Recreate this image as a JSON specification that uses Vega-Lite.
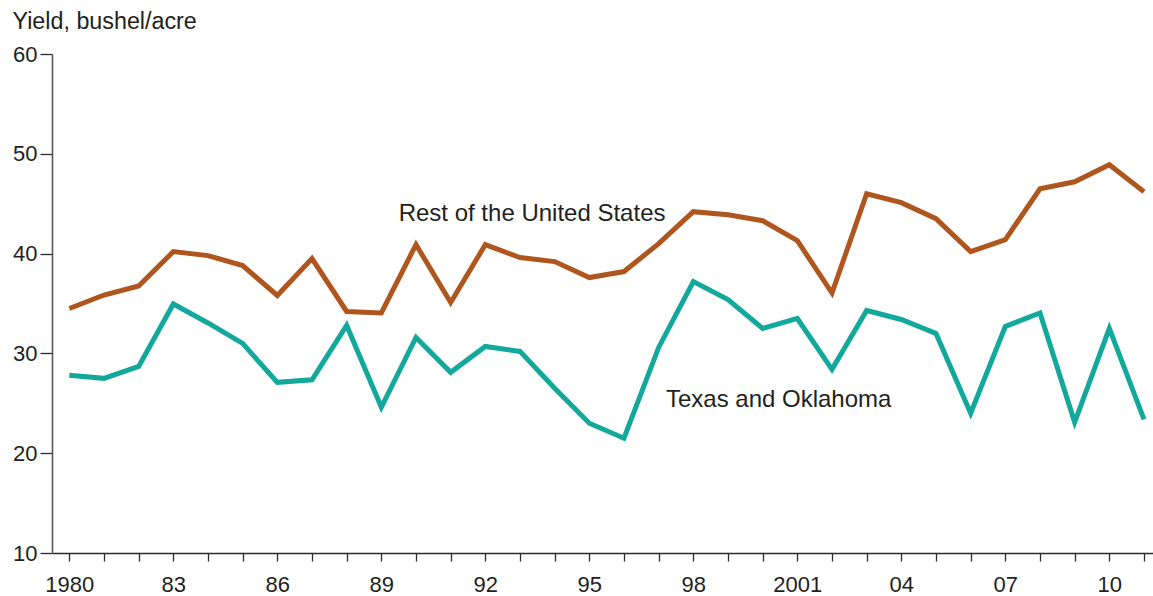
{
  "$schema": "https://vega.github.io/schema/vega-lite/v6.json",
  "width": 1101,
  "height": 499,
  "autosize": {"type": "none"},
  "padding": {"left": 52, "top": 54, "right": 0, "bottom": 43},
  "background": "white",
  "config": {"view": {"stroke": null}, "font": "Liberation Sans"},
  "datasets": {
    "yield": [
      {"region": "Rest of the United States", "year": 1980, "yield": 34.5},
      {"region": "Rest of the United States", "year": 1981, "yield": 35.85},
      {"region": "Rest of the United States", "year": 1982, "yield": 36.75},
      {"region": "Rest of the United States", "year": 1983, "yield": 40.2},
      {"region": "Rest of the United States", "year": 1984, "yield": 39.8},
      {"region": "Rest of the United States", "year": 1985, "yield": 38.8},
      {"region": "Rest of the United States", "year": 1986, "yield": 35.8},
      {"region": "Rest of the United States", "year": 1987, "yield": 39.5},
      {"region": "Rest of the United States", "year": 1988, "yield": 34.2},
      {"region": "Rest of the United States", "year": 1989, "yield": 34.05},
      {"region": "Rest of the United States", "year": 1990, "yield": 40.9},
      {"region": "Rest of the United States", "year": 1991, "yield": 35.1},
      {"region": "Rest of the United States", "year": 1992, "yield": 40.9},
      {"region": "Rest of the United States", "year": 1993, "yield": 39.6},
      {"region": "Rest of the United States", "year": 1994, "yield": 39.2},
      {"region": "Rest of the United States", "year": 1995, "yield": 37.6},
      {"region": "Rest of the United States", "year": 1996, "yield": 38.2},
      {"region": "Rest of the United States", "year": 1997, "yield": 41.0},
      {"region": "Rest of the United States", "year": 1998, "yield": 44.2},
      {"region": "Rest of the United States", "year": 1999, "yield": 43.9},
      {"region": "Rest of the United States", "year": 2000, "yield": 43.3},
      {"region": "Rest of the United States", "year": 2001, "yield": 41.3},
      {"region": "Rest of the United States", "year": 2002, "yield": 36.05},
      {"region": "Rest of the United States", "year": 2003, "yield": 46.0},
      {"region": "Rest of the United States", "year": 2004, "yield": 45.1},
      {"region": "Rest of the United States", "year": 2005, "yield": 43.5},
      {"region": "Rest of the United States", "year": 2006, "yield": 40.2},
      {"region": "Rest of the United States", "year": 2007, "yield": 41.4},
      {"region": "Rest of the United States", "year": 2008, "yield": 46.5},
      {"region": "Rest of the United States", "year": 2009, "yield": 47.2},
      {"region": "Rest of the United States", "year": 2010, "yield": 48.9},
      {"region": "Rest of the United States", "year": 2011, "yield": 46.2},
      {"region": "Texas and Oklahoma", "year": 1980, "yield": 27.8},
      {"region": "Texas and Oklahoma", "year": 1981, "yield": 27.5},
      {"region": "Texas and Oklahoma", "year": 1982, "yield": 28.7},
      {"region": "Texas and Oklahoma", "year": 1983, "yield": 34.95},
      {"region": "Texas and Oklahoma", "year": 1984, "yield": 33.05},
      {"region": "Texas and Oklahoma", "year": 1985, "yield": 31.0},
      {"region": "Texas and Oklahoma", "year": 1986, "yield": 27.1},
      {"region": "Texas and Oklahoma", "year": 1987, "yield": 27.35},
      {"region": "Texas and Oklahoma", "year": 1988, "yield": 32.8},
      {"region": "Texas and Oklahoma", "year": 1989, "yield": 24.6},
      {"region": "Texas and Oklahoma", "year": 1990, "yield": 31.6},
      {"region": "Texas and Oklahoma", "year": 1991, "yield": 28.1},
      {"region": "Texas and Oklahoma", "year": 1992, "yield": 30.7},
      {"region": "Texas and Oklahoma", "year": 1993, "yield": 30.2},
      {"region": "Texas and Oklahoma", "year": 1994, "yield": 26.5},
      {"region": "Texas and Oklahoma", "year": 1995, "yield": 23.0},
      {"region": "Texas and Oklahoma", "year": 1996, "yield": 21.5},
      {"region": "Texas and Oklahoma", "year": 1997, "yield": 30.6},
      {"region": "Texas and Oklahoma", "year": 1998, "yield": 37.2},
      {"region": "Texas and Oklahoma", "year": 1999, "yield": 35.4},
      {"region": "Texas and Oklahoma", "year": 2000, "yield": 32.5},
      {"region": "Texas and Oklahoma", "year": 2001, "yield": 33.5},
      {"region": "Texas and Oklahoma", "year": 2002, "yield": 28.4},
      {"region": "Texas and Oklahoma", "year": 2003, "yield": 34.3},
      {"region": "Texas and Oklahoma", "year": 2004, "yield": 33.4},
      {"region": "Texas and Oklahoma", "year": 2005, "yield": 32.0},
      {"region": "Texas and Oklahoma", "year": 2006, "yield": 24.0},
      {"region": "Texas and Oklahoma", "year": 2007, "yield": 32.7},
      {"region": "Texas and Oklahoma", "year": 2008, "yield": 34.05},
      {"region": "Texas and Oklahoma", "year": 2009, "yield": 23.1},
      {"region": "Texas and Oklahoma", "year": 2010, "yield": 32.5},
      {"region": "Texas and Oklahoma", "year": 2011, "yield": 23.4}
    ]
  },
  "resolve": {"axis": {"x": "independent"}},
  "layer": [
    {
      "data": {"name": "yield"},
      "mark": {"type": "line", "strokeWidth": 5, "strokeJoin": "miter", "strokeCap": "butt"},
      "encoding": {
        "x": {
          "field": "year",
          "type": "quantitative",
          "scale": {"domain": [1979.5, 2011.26], "nice": false, "zero": false},
          "axis": {
            "orient": "bottom",
            "title": null,
            "grid": false,
            "labels": false,
            "values": [1980,1981,1982,1983,1984,1985,1986,1987,1988,1989,1990,1991,1992,1993,1994,1995,1996,1997,1998,1999,2000,2001,2002,2003,2004,2005,2006,2007,2008,2009,2010,2011],
            "tickSize": 8,
            "tickWidth": 1.3,
            "tickColor": "#2a2a2a",
            "domainColor": "#2a2a2a",
            "domainWidth": 1.6
          }
        },
        "y": {
          "field": "yield",
          "type": "quantitative",
          "scale": {"domain": [10, 60], "nice": false, "zero": false},
          "axis": {
            "title": "Yield, bushel/acre",
            "titleAngle": 0,
            "titleAlign": "left",
            "titleBaseline": "alphabetic",
            "titleX": -40,
            "titleY": -26,
            "titleFontSize": 23.3,
            "titleFontWeight": "normal",
            "titleColor": "#231F20",
            "grid": false,
            "values": [10, 20, 30, 40, 50, 60],
            "tickSize": 12,
            "tickWidth": 1.3,
            "tickColor": "#2a2a2a",
            "domainColor": "#555555",
            "domainWidth": 1.6,
            "labelPadding": 3,
            "labelFontSize": 22,
            "labelColor": "#231F20"
          }
        },
        "color": {
          "field": "region",
          "type": "nominal",
          "scale": {"domain": ["Rest of the United States", "Texas and Oklahoma"], "range": ["#AF551E", "#12A89B"]},
          "legend": null
        }
      }
    },
    {
      "data": {"values": [{}]},
      "mark": {"type": "text", "text": "Rest of the United States", "align": "left", "baseline": "alphabetic", "fontSize": 24, "color": "#231F20"},
      "encoding": {
        "x": {
          "datum": 1989.5,
          "type": "quantitative",
          "axis": {
            "orient": "bottom",
            "title": null,
            "grid": false,
            "domain": false,
            "ticks": false,
            "values": [1980, 1983, 1986, 1989, 1992, 1995, 1998, 2001, 2004, 2007, 2010],
            "labelExpr": "(datum.value == 1980 || datum.value == 2001) ? '' + datum.value : slice('' + datum.value, 2)",
            "labelPadding": 21,
            "labelFontSize": 22,
            "labelColor": "#231F20",
            "labelFlush": false,
            "labelOverlap": false
          }
        },
        "y": {"datum": 43.23, "type": "quantitative"}
      }
    },
    {
      "data": {"values": [{}]},
      "mark": {"type": "text", "text": "Texas and Oklahoma", "align": "left", "baseline": "alphabetic", "fontSize": 24, "color": "#231F20"},
      "encoding": {
        "x": {"datum": 1997.21, "type": "quantitative", "axis": null},
        "y": {"datum": 24.59, "type": "quantitative"}
      }
    }
  ]
}
